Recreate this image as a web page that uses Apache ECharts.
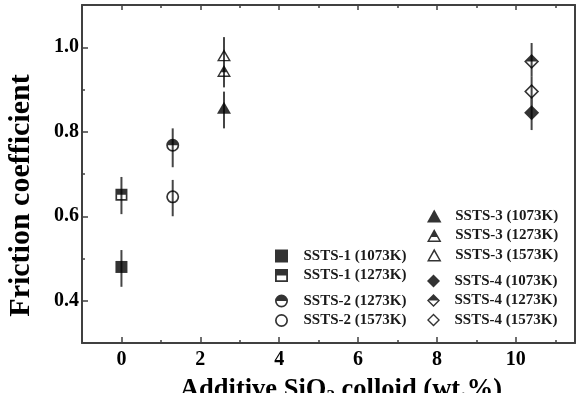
<!DOCTYPE html>
<html>
<head>
<meta charset="utf-8">
<script src="https://cdn.jsdelivr.net/npm/echarts@6/dist/echarts.min.js"></script>
<style>
  html, body { margin: 0; padding: 0; background: #fff; }
  #main { width: 583px; height: 393px; }
</style>
</head>
<body>
<div id="main"></div>
<script>
// data
var names = [
  "SSTS-1 (1073K)", "SSTS-1 (1273K)",
  "SSTS-2 (1273K)", "SSTS-2 (1573K)",
  "SSTS-3 (1073K)", "SSTS-3 (1273K)", "SSTS-3 (1573K)",
  "SSTS-4 (1073K)", "SSTS-4 (1273K)", "SSTS-4 (1573K)"
];
var silica = [0, 0, 1.3, 1.3, 2.6, 2.6, 2.6, 10.4, 10.4, 10.4];
var friction = [0.48, 0.651, 0.768, 0.646, 0.857, 0.944, 0.981, 0.845, 0.966, 0.895];
var errLow = [0.433, 0.605, 0.716, 0.600, 0.808, 0.905, 0.940, 0.804, 0.930, 0.860];
var errHigh = [0.520, 0.693, 0.808, 0.686, 0.895, 0.980, 1.024, 0.880, 1.010, 0.930];

var FONT = "Liberation Serif";
var LINE = "#404040";

// marker shapes (filled / half filled / open)
var SQ = "M0,0H100V100H0Z", SQ_IN = "M14,14V86H86V14Z", SQ_TOP = "M0,0H100V50H0Z";
var CI = "M0,50A50,50,0,1,1,100,50A50,50,0,1,1,0,50Z";
var CI_IN = "M13,50A37,37,0,1,0,87,50A37,37,0,1,0,13,50Z";
var CI_TOP = "M0,50A50,50,0,0,1,100,50Z";
var TR = "M50,0L100,90L0,90Z", TR_IN = "M50,22L17,80L83,80Z", TR_TOP = "M50,0L80.6,55L19.4,55Z";
var DI = "M50,0L100,50L50,100L0,50Z", DI_IN = "M50,15L15,50L50,85L85,50Z", DI_TOP = "M50,0L100,50L0,50Z";

var shapes = [
  "path://" + SQ,
  "path://" + SQ + SQ_IN + SQ_TOP,
  "path://" + CI + CI_IN + CI_TOP,
  "path://" + CI + CI_IN,
  "path://" + TR,
  "path://" + TR + TR_IN + TR_TOP,
  "path://" + TR + TR_IN,
  "path://" + DI,
  "path://" + DI + DI_IN + DI_TOP,
  "path://" + DI + DI_IN
];
var sizes = [12, 12, 13, 13, [14, 12], [14, 12], [14, 12], 15, 15, 15];

var myChart = echarts.init(document.getElementById("main"));

var series = [{
  type: "custom",
  z: 1,
  data: silica.map(function (x, i) { return [x, errLow[i], errHigh[i]]; }),
  encode: { x: 0, y: [1, 2] },
  renderItem: function (params, api) {
    var a = api.coord([api.value(0), api.value(1)]);
    var b = api.coord([api.value(0), api.value(2)]);
    return {
      type: "line",
      shape: { x1: a[0], y1: a[1], x2: b[0], y2: b[1] },
      style: { stroke: "#454545", lineWidth: 2 }
    };
  }
}];
names.forEach(function (n, i) {
  series.push({
    type: "scatter",
    name: n,
    z: 3,
    data: [[silica[i], friction[i]]],
    symbol: shapes[i],
    symbolSize: sizes[i],
    itemStyle: { color: "#000" }
  });
});

function legendBox(items, left, top, w) {
  return {
    data: items,
    orient: "vertical",
    left: left,
    top: top,
    padding: 0,
    itemWidth: w,
    itemHeight: 13,
    itemGap: 4.5,
    selectedMode: false,
    symbolKeepAspect: true,
    textStyle: { fontFamily: FONT, fontWeight: "bold", fontSize: 15, color: "#1a1a1a", lineHeight: 13 }
  };
}

var labelStyle = { fontFamily: FONT, fontWeight: "bold", fontSize: 20, color: "#000" };
var noZero = { onZero: false, lineStyle: { color: LINE, width: 2 } };

myChart.setOption({
  animation: false,
  grid: { left: 82, right: 8, top: 5, bottom: 50, outerBoundsMode: "none" },
  legend: [
    legendBox(names.slice(0, 2), 275, 248.5, 34),
    legendBox(names.slice(2, 4), 275, 293.5, 34),
    legendBox(names.slice(4, 7), 427, 208.5, 32),
    legendBox(names.slice(7, 10), 427, 273.5, 32)
  ],
  xAxis: [
    {
      type: "value", min: -1, max: 11.5, splitNumber: 6, position: "bottom",
      axisLine: noZero,
      axisTick: { inside: true, length: 6, lineStyle: { color: LINE, width: 1.5 } },
      axisLabel: Object.assign({ margin: 7, showMinLabel: false, showMaxLabel: false }, labelStyle),
      splitLine: { show: false },
      name: "Additive SiO{sub|2} colloid (wt.%)",
      nameLocation: "middle",
      nameGap: 22,
      nameTextStyle: {
        fontFamily: FONT, fontWeight: "bold", fontSize: 26.5, color: "#000", lineHeight: 30,
        padding: [0, 0, 0, 25],
        rich: { sub: { fontFamily: FONT, fontWeight: "bold", fontSize: 17, lineHeight: 14, verticalAlign: "bottom" } }
      }
    },
    {
      type: "value", min: -1, max: 11.5, interval: 1, position: "bottom",
      axisLine: { show: false, onZero: false },
      axisTick: { inside: true, length: 3, lineStyle: { color: LINE, width: 1.5 } },
      axisLabel: { show: false },
      splitLine: { show: false }
    },
    {
      type: "value", min: -1, max: 11.5, splitNumber: 6, position: "top",
      axisLine: noZero,
      axisTick: { inside: true, length: 5, lineStyle: { color: LINE, width: 1.5 } },
      axisLabel: { show: false },
      splitLine: { show: false }
    },
    {
      type: "value", min: -1, max: 11.5, interval: 1, position: "top",
      axisLine: { show: false, onZero: false },
      axisTick: { inside: true, length: 3, lineStyle: { color: LINE, width: 1.5 } },
      axisLabel: { show: false },
      splitLine: { show: false }
    }
  ],
  yAxis: [
    {
      type: "value", min: 0.3, max: 1.1, splitNumber: 4, position: "left",
      axisLine: Object.assign({ show: true }, noZero),
      axisTick: { show: true, inside: true, length: 6, lineStyle: { color: LINE, width: 1.5 } },
      axisLabel: Object.assign({
        margin: 3, showMinLabel: false, showMaxLabel: false,
        formatter: function (v) { return v.toFixed(1); }
      }, labelStyle),
      splitLine: { show: false },
      name: "Friction coefficient",
      nameLocation: "middle",
      nameGap: 46,
      nameTextStyle: { fontFamily: FONT, fontWeight: "bold", fontSize: 30, color: "#000", padding: [0, 43, 0, 0] }
    },
    {
      type: "value", min: 0.3, max: 1.1, interval: 0.1, position: "left",
      axisLine: { show: false, onZero: false },
      axisTick: { show: true, inside: true, length: 3, lineStyle: { color: LINE, width: 1.5 } },
      axisLabel: { show: false },
      splitLine: { show: false }
    },
    {
      type: "value", min: 0.3, max: 1.1, position: "right",
      axisLine: Object.assign({ show: true }, noZero),
      axisTick: { show: false },
      axisLabel: { show: false },
      splitLine: { show: false }
    }
  ],
  series: series
});
</script>
</body>
</html>
